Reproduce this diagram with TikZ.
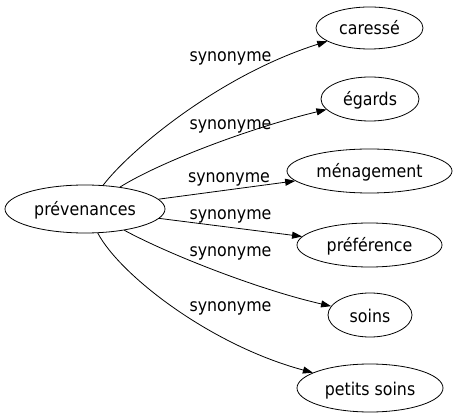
\documentclass[tikz,border=0pt]{standalone}
\usepackage{fontspec}
\setmainfont{DejaVu Sans Condensed}
\usetikzlibrary{arrows.meta,shapes.geometric}
\begin{document}
\begin{tikzpicture}[x=1pt,y=-1pt,
  word/.style={draw=black, line width=0.8pt, ellipse, inner sep=0pt, text height=14pt, text depth=0pt, font=\fontsize{17.6}{20}\selectfont},
  rel/.style={font=\fontsize{17.6}{20}\selectfont, inner sep=0pt, anchor=base},
  link/.style={draw=black, line width=0.8pt, -{Triangle[length=10pt,width=7pt]}}]
\useasboundingbox (0,0) rectangle (457,419);
\node[word, minimum width=160pt, minimum height=48pt] (p) at (85,209) {prévenances};
\node[word, minimum width=107pt, minimum height=42pt] (c) at (369.5,28) {caressé};
\node[word, minimum width=98pt, minimum height=44pt] (e) at (370,99) {égards};
\node[word, minimum width=165pt, minimum height=44pt] (m) at (369.5,171) {ménagement};
\node[word, minimum width=145pt, minimum height=44pt] (r) at (369.5,245) {préférence};
\node[word, minimum width=84pt, minimum height=44pt] (s) at (370,315) {soins};
\node[word, minimum width=146pt, minimum height=48pt] (t) at (370,388) {petits soins};
\node[rel] (l1) at (230.5,61.5) {synonyme};
\node[rel] (l2) at (230.5,129.5) {synonyme};
\node[rel] (l3) at (229,183) {synonyme};
\node[rel] (l4) at (230.5,220) {synonyme};
\node[rel] (l5) at (230.5,256.5) {synonyme};
\node[rel] (l6) at (230.5,311.5) {synonyme};
\draw[link] (p) .. controls (130,150) and (220,75) .. (c);
\draw[link] (p) .. controls (160,162) and (250,128) .. (e);
\draw[link] (p) -- (m);
\draw[link] (p) -- (r);
\draw[link] (p) .. controls (170,255) and (260,290) .. (s);
\draw[link] (p) .. controls (120,275) and (210,345) .. (t);
\end{tikzpicture}
\end{document}
